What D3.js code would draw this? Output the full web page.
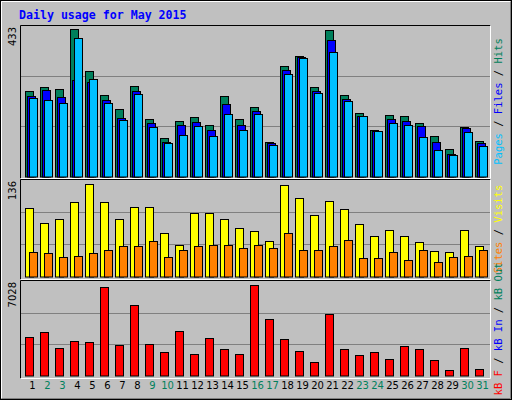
<!DOCTYPE html>
<html lang="en">
<head>
<meta charset="UTF-8">
<title>Daily usage</title>
<script src="https://d3js.org/d3.v7.min.js"></script>
<style>body{margin:0}</style>
</head>
<body>
<script>
    days = d3.range(1, 32)
    weekend = [2, 3, 9, 10, 16, 17, 23, 24, 30, 31]
    hits = [245,257,251,423,303,234,194,260,165,110,159,171,148,231,165,199,99,317,346,257,421,234,182,133,176,173,153,116,79,142,102]
    files = [231,248,228,278,271,219,168,245,153,99,148,156,133,208,148,188,96,306,343,245,392,222,173,132,165,159,145,99,64,139,96]
    pages = [225,219,211,398,280,211,162,237,142,96,119,145,116,179,133,179,90,294,340,240,357,217,173,130,153,148,113,76,61,127,87]
    visits = [96,76,81,105,130,105,81,98,98,61,45,89,89,81,69,64,50,129,110,86,106,95,74,57,65,57,48,36,34,65,43]
    sites = [34,33,27,29,33,38,43,43,50,27,37,43,45,45,40,45,40,62,38,38,43,51,26,26,34,23,37,20,27,29,37]
    kbytes = [2836,3206,2022,2540,2466,6609,2244,5277,2318,1726,3280,1578,2762,1948,1578,6757,4168,2688,1800,986,4537,1948,1504,1726,1208,2170,1948,1134,395,2022,469]
    maxLabels = [433, 136, 7028]

    svg = d3.select("body").append("svg")
        .attr("width", 512).attr("height", 400)
        .style("font-family", "DejaVu Sans")

    // background + bevel
    svg.append("rect").attr("width", 512).attr("height", 400).attr("fill", "#c0c0c0")
    svg.append("path").attr("d", "M1.5,398.5 V1.5 H510.5").attr("stroke", "#fff").attr("fill", "none")
    svg.append("path").attr("d", "M1.5,398.5 H510.5 V1.5").attr("stroke", "#808080").attr("fill", "none")
    svg.append("rect").attr("x", 0.5).attr("y", 0.5).attr("width", 511).attr("height", 399)
        .attr("stroke", "#000").attr("fill", "none")

    svg.append("text").attr("x", 19).attr("y", 19)
        .attr("font-family", "DejaVu Sans Mono").attr("font-weight", "bold")
        .attr("font-size", 11.6).attr("fill", "#0000ff")
        .text("Daily usage for May 2015")

    x = d3.scaleBand().domain(days).range([25, 490])

    panels = [
        {top: 25, bottom: 178, base: 176.5, max: maxLabels[0],
         series: [[hits, "#00805c", 0], [files, "#0000ff", 2], [pages, "#00c0ff", 4]],
         legend: [["Pages", "#00c0ff"], ["Files", "#0000ff"], ["Hits", "#00805c"]]},
        {top: 179, bottom: 279, base: 276.5, max: maxLabels[1],
         series: [[visits, "#ffff00", 0], [sites, "#ff8000", 4]],
         legend: [["Sites", "#ff8000"], ["Visits", "#ffff00"]]},
        {top: 280, bottom: 378, base: 375.5, max: maxLabels[2],
         series: [[kbytes, "#ff0000", 0]],
         legend: [["kB F", "#ff0000"], ["kB In", "#0000ff"], ["kB Out", "#00805c"]]}
    ]

    panels.forEach(p => {
        y = d3.scaleLinear().domain([0, p.max]).range([p.base, p.top + 1])
        svg.append("path")
            .attr("d", `M20.5,${p.bottom}.5 V${p.top}.5 H490.5`).attr("stroke", "#000").attr("fill", "none")
        svg.append("path")
            .attr("d", `M20.5,${p.bottom}.5 H490.5 V${p.top}.5`).attr("stroke", "#fff").attr("fill", "none")
        svg.selectAll(null).data([p.max / 3, p.max * 2 / 3]).join("line")
            .attr("x1", 21).attr("x2", 490)
            .attr("y1", d => Math.round(y(d)) + 0.5).attr("y2", d => Math.round(y(d)) + 0.5)
            .attr("stroke", "#808080")
        p.series.forEach(([vals, col, off]) => {
            svg.selectAll(null).data(vals).join("rect")
                .attr("x", (d, i) => x(days[i]) + off + 0.5)
                .attr("width", 8)
                .attr("y", d => Math.round(y(d)) + 0.5)
                .attr("height", d => p.base - Math.round(y(d)))
                .attr("fill", col).attr("stroke", "#000")
        })
        svg.append("text")
            .attr("transform", `translate(16,${p.top + 2}) rotate(-90)`)
            .attr("text-anchor", "end").attr("font-size", 10).attr("fill", "#000")
            .text(p.max)
        leg = svg.append("text")
            .attr("transform", `translate(502,${p.top + (p.bottom - p.top) / 2}) rotate(-90)`)
            .attr("text-anchor", "middle")
            .attr("font-family", "DejaVu Sans Mono").attr("font-size", 10.5)
        p.legend.forEach(([t, c], i) => {
            if (i > 0) leg.append("tspan").attr("fill", "#000").text(" / ")
            leg.append("tspan").attr("fill", c).text(t)
        })
    })

    axis = svg.append("g").attr("transform", "translate(0,381)")
        .call(d3.axisBottom(x).tickSize(0).tickPadding(0))
    axis.select(".domain").remove()
    axis.selectAll("text")
        .attr("font-size", 10).attr("font-family", "DejaVu Sans").attr("dy", "0.75em")
        .attr("fill", d => weekend.includes(d) ? "#00805c" : "#000")
</script>
</body>
</html>
